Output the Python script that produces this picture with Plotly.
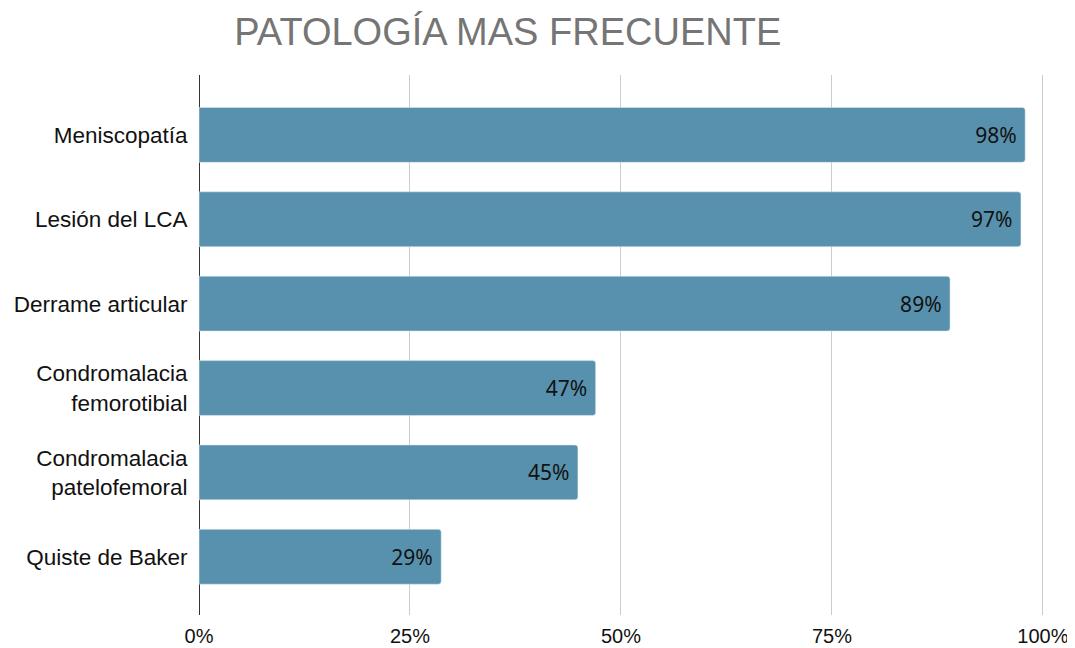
import plotly.graph_objects as go

categories = [
    "Meniscopatía",
    "Lesión del LCA",
    "Derrame articular",
    "Condromalacia<br>femorotibial",
    "Condromalacia<br>patelofemoral",
    "Quiste de Baker",
]
percent = [97.9, 97.4, 89.0, 47.0, 44.9, 28.7]
tick_vals = [0, 25, 50, 75, 100]
tick_text = ["0%", "25%", "50%", "75%", "100%"]

fig = go.Figure()
fig.add_trace(go.Bar(
    x=percent,
    y=categories,
    orientation="h",
    marker=dict(color="#5891ad", cornerradius=3),
    width=0.65,
    texttemplate="%{x:.0f}%\u00a0",
    textposition="inside",
    insidetextanchor="end",
    textfont=dict(family="Noto Sans", size=21, color="#111111"),
    hoverinfo="skip",
))

# page body has an 8px margin, so the figure is a bit smaller than the window
fig.update_layout(
    width=1067,
    height=640,
    margin=dict(l=191, r=30, t=67, b=33),
    paper_bgcolor="white",
    plot_bgcolor="white",
    showlegend=False,
    font=dict(family="Liberation Sans, Arial", color="#111111"),
    title=dict(
        text="PATOLOGÍA MAS FRECUENTE",
        x=0.365, xanchor="center", xref="paper",
        y=0.9625, yanchor="middle",
        font=dict(family="Liberation Sans, Arial", size=38, color="#757575"),
    ),
    xaxis=dict(
        range=[0, 100.25],
        tickvals=tick_vals,
        ticktext=tick_text,
        showgrid=True,
        gridcolor="#cccccc",
        gridwidth=1,
        zeroline=True,
        zerolinecolor="#333333",
        zerolinewidth=1,
        ticks="outside",
        ticklen=3,
        tickcolor="rgba(0,0,0,0)",
        tickfont=dict(size=20, color="#111111"),
        showline=False,
        automargin=False,
    ),
    yaxis=dict(
        categoryorder="array",
        categoryarray=categories,
        range=[5.69, -0.71],
        ticks="outside",
        ticklen=6,
        tickcolor="rgba(0,0,0,0)",
        tickfont=dict(size=22.5, color="#111111"),
        showgrid=False,
        showline=False,
        automargin=False,
    ),
)

fig.write_html("out.html")
